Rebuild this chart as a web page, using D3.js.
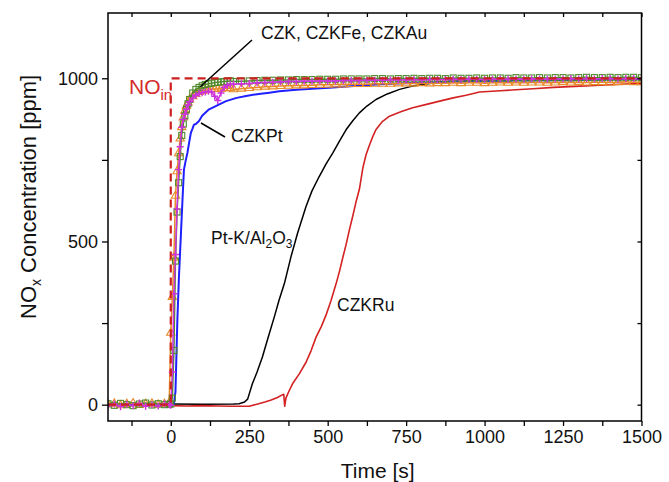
<!DOCTYPE html>
<html><head><meta charset="utf-8">
<script src="https://cdn.jsdelivr.net/npm/d3@7"></script>
<style>
html,body{margin:0;padding:0;background:#fff;}
svg{display:block;font-family:"Liberation Sans",Arial,sans-serif;}
</style></head>
<body>
<svg id="chart" width="669" height="482"></svg>
<script>
// ---------------- DATA ----------------
const noInTime  = [-200, 0, 0, 1500];
const noInValue = [0, 0, 1000, 1000];

// shared sampling for CZK / CZKFe / CZKAu (marker series)
const fastTime = [-200,-180,-160,-140,-120,-100,-80,-60,-40,-20,-5,0,
  5,10,15,20,25,30,35,40,45,50,55,60,
  70,80,90,100,110,120,130,140,150,160,170,180,190,200,
  225,250,275,300,325,350,375,400,425,450,475,500,525,550,575,600,625,650,675,700,
  725,750,775,800,825,850,875,900,925,950,975,1000,1025,1050,1075,1100,1125,1150,1175,
  1200,1225,1250,1275,1300,1325,1350,1375,1400,1425,1450,1475,1500];

const czkValue = [3,-2,4,0,-3,2,5,-1,3,0,1,2,
  20,166,440,590,680,760,825,860,885,905,922,935,
  955,966,972,977,981,983,985,987,988,989,990,991,992,990,
  991,992,993,994,994,995,995,996,996,996,997,997,997,998,998,998,998,999,999,998,
  999,999,1000,999,1000,1000,999,1001,1000,1000,1001,1000,1001,1001,1000,1002,1001,1001,1002,
  1001,1002,1002,1001,1002,1003,1002,1002,1003,1002,1003,1003,1002];

const czkFeValue = [1,3,-2,2,4,-1,2,3,0,2,6,220,
  330,450,640,715,770,815,850,880,900,915,925,935,
  945,952,958,961,963,965,966,967,967,968,969,969,970,966,
  968,970,972,974,975,976,977,978,978,979,980,980,981,981,982,982,982,983,983,983,
  984,984,984,985,984,985,985,986,985,986,986,985,986,987,986,987,986,987,987,
  986,987,988,987,988,987,988,988,987,988,989,988,988];

const czkAuValue = [-4,2,-6,1,-3,4,-5,0,-4,3,0,-2,
  100,340,460,600,720,790,850,874,890,905,918,928,
  940,948,953,956,958,960,958,945,932,955,972,978,982,982,
  983,984,986,987,988,989,990,990,991,991,992,992,992,993,993,993,994,994,994,995,
  995,995,996,995,996,996,996,997,996,997,997,996,997,998,997,998,997,998,998,
  997,998,998,999,998,999,998,999,999,998,999,999,998];

const ptTime  = [-200,-100,0,10,15,18,21,26,32,37,42,48,53,58,64,69,74,80,90,100,122,150,176,210,240,280,314,346,400,450,505,560,610,665,740,825,900,1000,1100,1200,1300,1400,1500];
const ptValue = [0,1,0,2,40,150,258,390,515,620,720,750,771,800,833,845,858,860,869,885,905,918,930,940,946,952,956,960,965,968,971,975,978,982,985,987,989,991,993,994,995,996,997];

const ptkTime  = [-200,-100,0,100,200,218,235,245,260,275,292,310,330,345,362,383,404,431,450,473,495,516,538,559,580,601,625,654,690,729,770,810,857,920,1000,1100,1200,1300,1400,1500];
const ptkValue = [2,1,2,1,2,3,8,17,64,100,146,205,269,320,371,453,525,607,655,699,738,771,808,843,870,894,915,935,952,966,976,982,989,992,994,995,996,997,997,998];

const ruTime  = [0,50,100,150,200,250,280,300,320,340,355,360,363,367,375,388,410,431,447,463,480,495,511,527,538,548,559,569,580,590,601,612,622,633,644,654,675,697,735,771,815,857,900,941,984,1050,1100,1154,1220,1304,1400,1500];
const ruValue = [-3,-4,-3,-4,-5,-5,3,8,14,22,30,32,-5,20,38,64,95,130,165,207,240,275,320,371,410,450,492,535,578,620,660,725,765,795,822,843,868,884,898,910,920,930,940,948,958,962,965,968,972,976,980,985];

const xTicks = [-125,0,125,250,375,500,625,750,875,1000,1125,1250,1375,1500];
const xLabels = [0,250,500,750,1000,1250,1500];
const yTicks = [0,250,500,750,1000];
const yLabels = [0,500,1000];

// ---------------- CHART ----------------
const svg = d3.select("#chart");
const L = 108, R = 641.5, T = 13, B = 421;
const x = d3.scaleLinear().domain([-200,1500]).range([L,R]);
const y = d3.scaleLinear().domain([-50,1200]).range([B,T]);

svg.append("defs").append("clipPath").attr("id","pc")
  .append("rect").attr("x",L).attr("y",T).attr("width",R-L).attr("height",B-T);

const zip = (ts, vs) => ts.map((t,i)=>({t, v: vs[i]}));
const line = d3.line().x(d=>x(d.t)).y(d=>y(d.v));

const plot = svg.append("g").attr("clip-path","url(#pc)");

function drawLine(data, color, w){
  plot.append("path").datum(data).attr("d",line)
    .attr("fill","none").attr("stroke",color).attr("stroke-width",w)
    .attr("stroke-linejoin","round");
}

const green = "#4f8a2c", orange = "#e8892a", magenta = "#cc33dd", blue = "#1f1fff", red = "#d42222";

drawLine(zip(ptkTime, ptkValue), "#000", 1.5);
drawLine(zip(ruTime, ruValue), red, 1.6);
drawLine(zip(ptTime, ptValue), blue, 2);

// marker series
const czk = zip(fastTime, czkValue), fe = zip(fastTime, czkFeValue), au = zip(fastTime, czkAuValue);
drawLine(fe, orange, 1.5);
plot.append("g").selectAll("path").data(fe).join("path")
  .attr("d", d3.symbol(d3.symbolTriangle, 30)())
  .attr("transform", d=>`translate(${x(d.t)},${y(d.v)})`)
  .attr("fill","none").attr("stroke",orange).attr("stroke-width",1.1);

drawLine(czk, green, 1.5);
plot.append("g").selectAll("rect").data(czk).join("rect")
  .attr("x", d=>x(d.t)-3).attr("y", d=>y(d.v)-3).attr("width",6).attr("height",6)
  .attr("fill","none").attr("stroke",green).attr("stroke-width",1.1);

drawLine(au, magenta, 1.5);
plot.append("g").selectAll("path").data(au).join("path")
  .attr("d", d=>{const cx=x(d.t), cy=y(d.v); return `M${cx-3.5},${cy}H${cx+3.5}M${cx},${cy-3.5}V${cy+3.5}`;})
  .attr("fill","none").attr("stroke",magenta).attr("stroke-width",1.4);

// NO_in dashed
plot.append("path").datum(zip(noInTime, noInValue)).attr("d",line)
  .attr("fill","none").attr("stroke","#cc1f1f").attr("stroke-width",2.2)
  .attr("stroke-dasharray","8,5");

// axes
const fs = "18px";
const gx = svg.append("g").attr("transform",`translate(0,${B})`)
  .call(d3.axisBottom(x).tickValues(xTicks).tickSizeOuter(0).tickSize(5).tickPadding(4)
    .tickFormat(d=> xLabels.includes(d) ? d : ""));
const gy = svg.append("g").attr("transform",`translate(${L},0)`)
  .call(d3.axisLeft(y).tickValues(yTicks).tickSizeOuter(0).tickSize(6).tickPadding(4)
    .tickFormat(d=> yLabels.includes(d) ? d : ""));
const gt = svg.append("g").attr("transform",`translate(0,${T})`)
  .call(d3.axisBottom(x).tickValues(xTicks).tickSizeOuter(0).tickSize(4).tickFormat(""));
const gr = svg.append("g").attr("transform",`translate(${R},0)`)
  .call(d3.axisRight(y).tickValues(yTicks).tickSizeOuter(0).tickSize(-4).tickFormat(""));
[gx,gy,gt,gr].forEach(g=>{
  g.select(".domain").remove();
  g.selectAll("line").attr("stroke","#000").attr("stroke-width",1.3);
  g.selectAll("text").attr("font-size",fs).attr("font-family","Liberation Sans, Arial, sans-serif").attr("fill","#111");
});
svg.append("rect").attr("x",L).attr("y",T).attr("width",R-L).attr("height",B-T)
  .attr("fill","none").attr("stroke","#000").attr("stroke-width",1.5);

// titles
svg.append("text").attr("x",(L+R)/2+3).attr("y",478).attr("text-anchor","middle")
  .attr("font-size","21px").attr("fill","#111").text("Time [s]");
const yt = svg.append("text").attr("transform","translate(36,319) rotate(-90)")
  .attr("text-anchor","start").attr("font-size","22px").attr("fill","#111");
yt.append("tspan").text("NO");
yt.append("tspan").attr("font-size","14px").attr("dy",5).text("x");
yt.append("tspan").attr("dy",-5).text(" Concentration [ppm]");

// annotations
const ann = svg.append("g").attr("font-size","17.5px").attr("fill","#111");
ann.append("text").attr("x",261).attr("y",39).text("CZK, CZKFe, CZKAu");
svg.append("line").attr("x1",252).attr("y1",40).attr("x2",200).attr("y2",87)
  .attr("stroke","#000").attr("stroke-width",1.5);
ann.append("text").attr("x",231).attr("y",142).text("CZKPt");
svg.append("line").attr("x1",225).attr("y1",137).attr("x2",201).attr("y2",123)
  .attr("stroke","#000").attr("stroke-width",1.5);
const pk = ann.append("text").attr("x",211).attr("y",244);
pk.append("tspan").text("Pt-K/Al");
pk.append("tspan").attr("font-size","12px").attr("dy",4).text("2");
pk.append("tspan").attr("dy",-4).text("O");
pk.append("tspan").attr("font-size","12px").attr("dy",4).text("3");
ann.append("text").attr("x",337).attr("y",311).text("CZKRu");

const no = svg.append("text").attr("x",129).attr("y",94).attr("fill","#d42a2a").attr("font-size","21px");
no.append("tspan").text("NO");
no.append("tspan").attr("font-size","15px").attr("dy",6).text("in");
</script>
</body></html>
